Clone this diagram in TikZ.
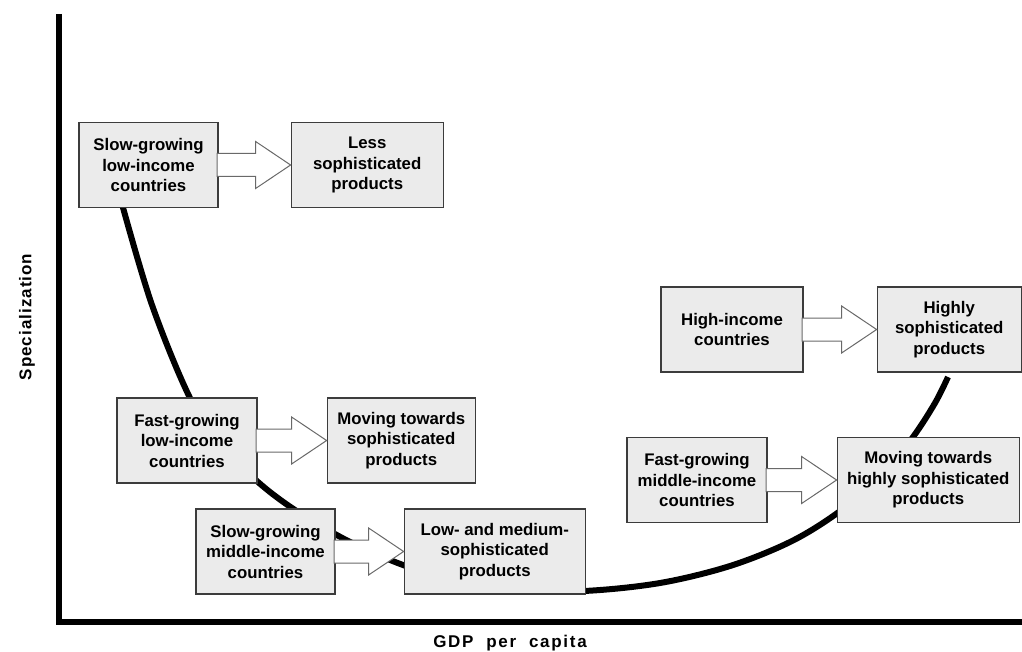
\documentclass[tikz,border=0pt]{standalone}
\usepackage{fontspec}
\setmainfont{Liberation Sans}
\usetikzlibrary{positioning, calc}
\definecolor{boxgray}{RGB}{235,235,235}
\definecolor{edgegray}{RGB}{60,60,60}
\definecolor{arrowgray}{RGB}{105,105,105}
\tikzset{
panel/.style={draw=edgegray, fill=boxgray, line width=1.2pt, align=center, inner sep=0pt, minimum height=85pt, font=\bfseries\fontsize{16.8pt}{20.5pt}\selectfont}, % the grey boxes
fatarrow/.style={draw=arrowgray, fill=white, line width=1pt, line join=miter,
  to path={let \p1=(\tikztostart), \p2=(\tikztotarget) in
    (\x1-1.5pt,\y1+11.5pt) -- (\x2-35pt,\y1+11.5pt) -- (\x2-35pt,\y1+23.5pt) -- (\x2,\y1)
    -- (\x2-35pt,\y1-23.5pt) -- (\x2-35pt,\y1-11.5pt) -- (\x1-1.5pt,\y1-11.5pt) -- cycle}}, % block arrow from box to box
axisline/.style={line width=6pt, black},
curve/.style={line width=6pt, black},
axislabel/.style={font=\bfseries\fontsize{17pt}{20pt}\selectfont\addfontfeature{LetterSpace=6}}
}

\begin{document}
\begin{tikzpicture}[x=1pt, y=-1pt]
  \useasboundingbox (0,0) rectangle (1022,652);

  % the curve, behind the boxes
  \draw[curve] plot[smooth, tension=0.55] coordinates {(122,204) (152,305) (190,398) (222,446) (258,482) (292,508) (335,534) (365,549) (403,565) (450,580) (510,590) (584,591) (660,583) (730,566) (790,542) (836,514) (880,478) (913,437) (935,403) (948,377)};

  % axes
  \coordinate (top) at (59,14);
  \coordinate (right) at (1022,622);
  \draw[axisline] (top) |- (right);

  \node[panel, minimum width=139pt] (slowlow) at (148.5,165) {Slow-growing\\low-income\\countries};
  \node[panel, minimum width=152pt, right=72pt of slowlow] (lesssoph) {Less\\sophisticated\\products};
  \node[panel, minimum width=140pt] (fastlow) at (187,440.5) {Fast-growing\\low-income\\countries};
  \node[panel, minimum width=148pt, right=69pt of fastlow] (movesoph) {Moving towards\\sophisticated\\products};
  \node[panel, minimum width=139pt] (slowmid) at (265.5,551.5) {Slow-growing\\middle-income\\countries};
  \node[panel, minimum width=181pt, right=68pt of slowmid] (lowmed) {Low- and medium-\\sophisticated\\products};
  \node[panel, minimum width=142pt] (highinc) at (732,329.5) {High-income\\countries};
  \node[panel, minimum width=144pt, right=73pt of highinc] (highsoph) {Highly\\sophisticated\\products};
  \node[panel, minimum width=140pt] (fastmid) at (697,480) {Fast-growing\\middle-income\\countries};
  \node[panel, minimum width=182pt, right=69pt of fastmid] (movehigh) {Moving towards\\highly sophisticated\\products};

  \draw[fatarrow] (slowlow.east) to (lesssoph.west);
  \draw[fatarrow] (fastlow.east) to (movesoph.west);
  \draw[fatarrow] (slowmid.east) to (lowmed.west);
  \draw[fatarrow] (highinc.east) to (highsoph.west);
  \draw[fatarrow] (fastmid.east) to (movehigh.west);

  \node[axislabel, rotate=90] (ylabel) at (27,317) {Specialization};
  \node[axislabel] (xlabel) at (510,643) {\addfontfeature{LetterSpace=10}GDP\ \ per\ \ capita};
\end{tikzpicture}
\end{document}
